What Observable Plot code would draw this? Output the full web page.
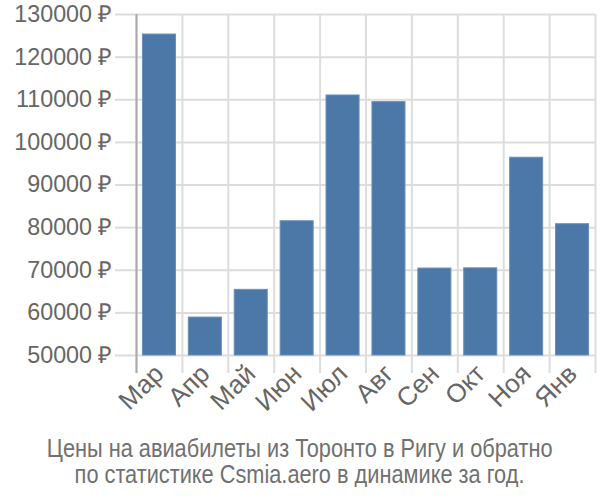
<!DOCTYPE html>
<html>
<head>
<meta charset="utf-8">
<script src="https://cdn.jsdelivr.net/npm/d3@7"></script>
<script src="https://cdn.jsdelivr.net/npm/@observablehq/plot@0.6"></script>
<style>
  body { margin: 0; background: #fff; font-family: "Liberation Sans", Arial, sans-serif; }
  #chart { width: 600px; }
  .caption { text-align: center; color: #707070; font-family: "Liberation Sans", Arial, sans-serif; font-size: 25px; line-height: 26px; margin-top: 10px; }
  .caption span { display: inline-block; white-space: nowrap; transform: scaleX(0.87); transform-origin: center; }
</style>
</head>
<body>
<div id="chart"></div>
<script>
const months = ["Мар", "Апр", "Май", "Июн", "Июл", "Авг", "Сен", "Окт", "Ноя", "Янв"];
const prices = [125300, 58900, 65400, 81500, 111000, 109450, 70400, 70450, 96400, 80800];
const yTicks = [50000, 60000, 70000, 80000, 90000, 100000, 110000, 120000, 130000];
const captionLines = ["Цены на авиабилеты из Торонто в Ригу и обратно", "по статистике Csmia.aero в динамике за год."];

const data = months.map((m, i) => ({month: m, price: prices[i]}));

const W = 600, H = 425, mL = 136, mR = 5, mT = 14, mB = 70;
const step = (W - mL - mR) / months.length;

const plot = Plot.plot({
  width: W,
  height: H,
  marginLeft: mL,
  marginRight: mR,
  marginTop: mT,
  marginBottom: mB,
  style: {fontFamily: "'Liberation Sans', Arial, sans-serif", fontSize: "23px", color: "#666", background: "#fff"},
  x: {domain: months, paddingInner: 0.28, paddingOuter: 0.14, round: false, label: null},
  y: {domain: [50000, 130000], label: null},
  marks: [
    Plot.gridY(yTicks, {stroke: "#ddd", strokeOpacity: 1, strokeWidth: 2}),
    Plot.ruleX(months, {x: d => d, dx: -step / 2, stroke: "#ddd", strokeWidth: 2, insetBottom: -18}),
    Plot.ruleX([months[months.length - 1]], {x: d => d, dx: step / 2, stroke: "#ddd", strokeWidth: 2, insetBottom: -18}),
    Plot.barY(data, {x: "month", y1: 50000, y2: "price", fill: "#4c78a8", stroke: "#6a8fbb", strokeWidth: 1}),
    Plot.axisY(yTicks, {tickSize: 21, tickPadding: 3, stroke: "#ddd", strokeWidth: 2, strokeOpacity: 1, tickFormat: d => d + " ₽", fill: "#666", fontSize: 23.3, label: null}),
    Plot.axisX({tickSize: 0, tickRotate: -45, tickPadding: 14, fill: "#666", fontSize: 26, label: null}),
    Plot.ruleX([0], {x: () => months[0], dx: -step / 2, stroke: "#aaa", strokeWidth: 2, insetBottom: -18})
  ]
});

const chart = document.getElementById("chart");
chart.appendChild(plot);
const cap = document.createElement("div");
cap.className = "caption";
captionLines.forEach((line, i) => {
  if (i > 0) cap.appendChild(document.createElement("br"));
  const s = document.createElement("span");
  s.textContent = line;
  cap.appendChild(s);
});
chart.appendChild(cap);
</script>
</body>
</html>
